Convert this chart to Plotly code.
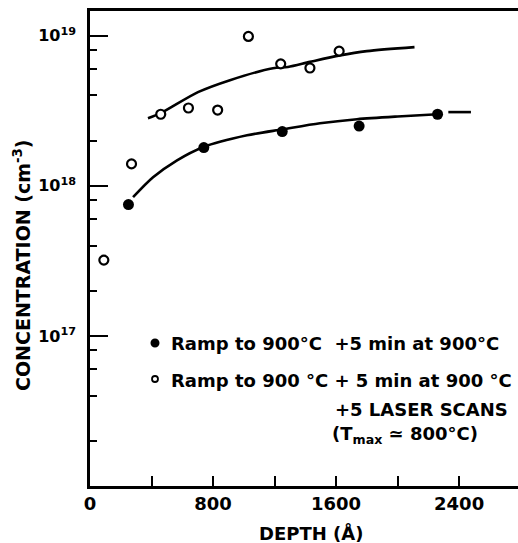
import plotly.graph_objects as go

# Measured depth profiles: depth in Å, concentration in cm^-3
depth_ramp = [250, 740, 1250, 1750, 2260]
conc_ramp = [7.5e17, 1.8e18, 2.3e18, 2.5e18, 3.0e18]

depth_laser = [90, 270, 460, 640, 830, 1030, 1240, 1430, 1620]
conc_laser = [3.2e17, 1.4e18, 3.0e18, 3.3e18, 3.2e18, 9.9e18, 6.5e18, 6.1e18, 7.9e18]

# Hand-drawn trend curves through each data set
trend_ramp_depth = [280, 410, 566, 735, 1021, 1255, 1495, 1736, 2000, 2260, None, 2330, 2477]
trend_ramp_conc = [8.4e17, 1.14e18, 1.48e18, 1.81e18, 2.17e18, 2.38e18, 2.61e18, 2.78e18, 2.9e18, 3.0e18,
                   None, 3.1e18, 3.1e18]

trend_laser_depth = [377, 460, 702, 910, 1190, 1287, 1430, 1625, 1800, 2110]
trend_laser_conc = [2.82e18, 3.05e18, 4.21e18, 5.06e18, 6.08e18, 6.2e18, 6.7e18, 7.4e18, 7.9e18, 8.4e18]

# Axis ticks
x_major = [0, 800, 1600, 2400]
x_minor = [400, 1200, 2000]
y_major = [1e17, 1e18, 1e19]
y_major_text = ["10<sup>17</sup>", "10<sup>18</sup>", "10<sup>19</sup>"]
y_minor = [m * 10.0 ** e for e in (16, 17, 18) for m in (2, 4, 6, 8)]

FONT = "DejaVu Sans"
W, H = 518, 543
L, R, T, B = 90, 0, 11, 57
PW, PH = W - L - R, H - T - B


def px(x):
    return (x - L) / PW


def py(y):
    return (H - B - y) / PH


fig = go.Figure()

line_style = dict(color="black", width=2.6, shape="spline", smoothing=0.8)
fig.add_trace(go.Scatter(x=trend_ramp_depth, y=trend_ramp_conc, mode="lines",
                         line=line_style, connectgaps=False, showlegend=False, hoverinfo="skip"))
fig.add_trace(go.Scatter(x=trend_laser_depth, y=trend_laser_conc, mode="lines",
                         line=line_style, showlegend=False, hoverinfo="skip"))

fig.add_trace(go.Scatter(x=depth_ramp, y=conc_ramp, mode="markers",
                         marker=dict(symbol="circle", size=11, color="black",
                                     line=dict(color="black", width=0)),
                         showlegend=False))
fig.add_trace(go.Scatter(x=depth_laser, y=conc_laser, mode="markers",
                         marker=dict(symbol="circle", size=9, color="white",
                                     line=dict(color="black", width=2.2)),
                         showlegend=False))

# Key: symbols plus text
fig.add_shape(type="circle", xref="paper", yref="paper",
              x0=px(150.5), x1=px(159.5), y0=py(347.5), y1=py(338.5),
              fillcolor="black", line=dict(color="black", width=0))
fig.add_shape(type="circle", xref="paper", yref="paper",
              x0=px(152), x1=px(158), y0=py(382), y1=py(376),
              fillcolor="white", line=dict(color="black", width=1.8))

text_font = dict(family=FONT, size=18, color="black", weight="bold")
key_lines = [
    ("Ramp to 900°C  +5 min at 900°C", 169, 343),
    ("Ramp to 900 °C + 5 min at 900 °C", 169, 380),
    ("+5 LASER SCANS", 333, 409),
    ("(T<sub>max</sub> ≃ 800°C)", 330, 435),
]
for txt, x0, y0 in key_lines:
    fig.add_annotation(text=txt, xref="paper", yref="paper", x=px(x0), y=py(y0),
                       xanchor="left", yanchor="middle", showarrow=False, font=text_font)

# Axis titles
fig.add_annotation(text="DEPTH (Å)", xref="paper", yref="paper", x=px(311), y=py(533),
                   xanchor="center", yanchor="middle", showarrow=False,
                   font=dict(family=FONT, size=18, color="black", weight="bold"))
fig.add_annotation(text="CONCENTRATION (cm<sup>-3</sup>)", xref="paper", yref="paper",
                   x=px(22), y=py(265), xanchor="center", yanchor="middle", textangle=-90,
                   showarrow=False, font=dict(family=FONT, size=19, color="black", weight="bold"))

fig.update_layout(
    width=W, height=H,
    margin=dict(l=L, r=R, t=T, b=B, pad=0),
    paper_bgcolor="white", plot_bgcolor="white",
    showlegend=False,
    font=dict(family=FONT, color="black"),
    xaxis=dict(
        range=[0, 2783], showgrid=False, zeroline=False,
        showline=True, linecolor="black", linewidth=2.5, mirror=True,
        tickmode="array", tickvals=x_major,
        ticks="inside", ticklen=10, tickwidth=2, tickcolor="black",
        tickfont=dict(family=FONT, size=18, color="black", weight="bold"),
        minor=dict(tickmode="array", tickvals=x_minor, ticks="inside",
                   ticklen=10, tickwidth=2, tickcolor="black", showgrid=False),
    ),
    yaxis=dict(
        type="log", range=[16, 19.165], showgrid=False, zeroline=False,
        showline=True, linecolor="black", linewidth=2.5, mirror=False,
        tickmode="array", tickvals=y_major, ticktext=y_major_text,
        ticks="inside", ticklen=18, tickwidth=2, tickcolor="black",
        tickfont=dict(family=FONT, size=16, color="black", weight="bold"),
        ticklabelstandoff=8,
        minor=dict(tickmode="array", tickvals=y_minor, ticks="inside",
                   ticklen=7, tickwidth=2, tickcolor="black", showgrid=False),
    ),
)

fig.write_html("out.html")
